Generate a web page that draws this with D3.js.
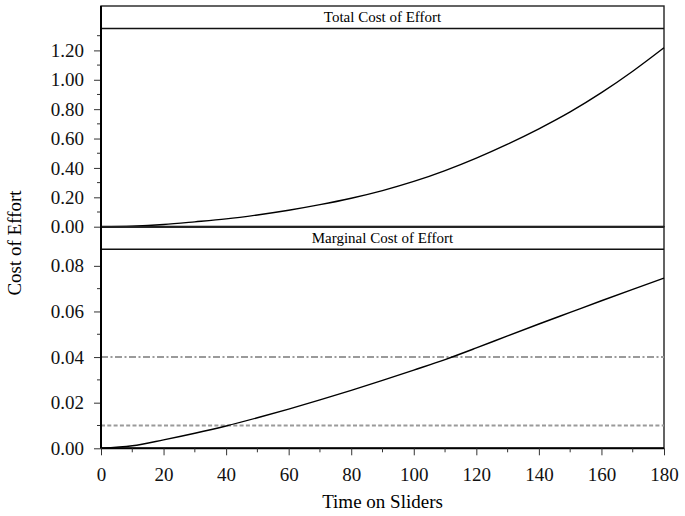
<!DOCTYPE html>
<html>
<head>
<meta charset="utf-8">
<script src="https://cdn.jsdelivr.net/npm/d3@7"></script>
<style>
  html, body { margin: 0; padding: 0; background: #fff; }
  svg { display: block; font-family: "Liberation Serif", "Times New Roman", serif; }
</style>
</head>
<body>
<div id="chart"></div>
<script>
// time on sliders (seconds)
const timeValues = [0, 10, 20, 30, 40, 50, 60, 70, 80, 90, 100, 110, 120, 130, 140, 150, 160, 170, 180];
// total cost of effort
const totalCost = [0, 0.004, 0.015, 0.033, 0.053, 0.080, 0.112, 0.150, 0.194, 0.246, 0.308, 0.382, 0.467, 0.562, 0.666, 0.781, 0.912, 1.058, 1.218];
// marginal cost of effort
const marginalCost = [0, 0.0011, 0.0037, 0.0066, 0.0098, 0.0134, 0.0172, 0.0212, 0.0254, 0.0298, 0.0343, 0.0389, 0.0440, 0.0493, 0.0545, 0.0596, 0.0647, 0.0697, 0.0746];
// reference lines in the marginal panel
const refLines = [
  { value: 0.04, dash: "7,2.5,2,2.5" },
  { value: 0.01, dash: "4,2.3" }
];
const xTicks = [0, 20, 40, 60, 80, 100, 120, 140, 160, 180];
const topTicks = [0, 0.2, 0.4, 0.6, 0.8, 1.0, 1.2];
const bottomTicks = [0, 0.02, 0.04, 0.06, 0.08];

const width = 685, height = 516;
const left = 101, right = 664;
const stripH = 22.5;

const svg = d3.select("#chart").append("svg")
  .attr("width", width)
  .attr("height", height);

const x = d3.scaleLinear().domain([0, 180]).range([left, right]);

const panels = [
  { title: "Total Cost of Effort", top: 6, bottom: 226.7, max: 1.349,
    values: totalCost, ticks: topTicks, minor: d3.range(0.1, 1.35, 0.2), fmt: d3.format(".2f"), refs: [] },
  { title: "Marginal Cost of Effort", top: 226.7, bottom: 448.3, max: 0.0873,
    values: marginalCost, ticks: bottomTicks, minor: [0.01, 0.03, 0.05, 0.07], fmt: d3.format(".2f"), refs: refLines }
];

panels.forEach(p => {
  const plotTop = p.top + stripH;
  const y = d3.scaleLinear().domain([0, p.max]).range([p.bottom, plotTop]);
  const g = svg.append("g");

  // strip box
  g.append("rect")
    .attr("x", left).attr("y", p.top)
    .attr("width", right - left).attr("height", p.bottom - p.top)
    .attr("fill", "none").attr("stroke", "#222").attr("stroke-width", 1.4);
  g.append("line")
    .attr("x1", left).attr("x2", right)
    .attr("y1", plotTop).attr("y2", plotTop)
    .attr("stroke", "#111").attr("stroke-width", 1.4);
  g.append("text")
    .attr("x", (left + right) / 2).attr("y", p.top + 16)
    .attr("text-anchor", "middle")
    .attr("font-size", 15)
    .text(p.title);

  // reference lines
  p.refs.forEach(r => {
    g.append("line")
      .attr("x1", left).attr("x2", right)
      .attr("y1", y(r.value)).attr("y2", y(r.value))
      .attr("stroke", "#9a9a9a").attr("stroke-width", 2)
      .attr("stroke-dasharray", r.dash);
  });

  // curve
  const line = d3.line()
    .x((d, i) => x(timeValues[i]))
    .y(d => y(d))
    .curve(d3.curveMonotoneX);
  g.append("path")
    .datum(p.values)
    .attr("d", line)
    .attr("fill", "none")
    .attr("stroke", "#000")
    .attr("stroke-width", 1.4);

  // y axis
  const yAxis = g.append("g")
    .attr("transform", `translate(${left},0)`)
    .call(d3.axisLeft(y).tickValues(p.ticks).tickFormat(p.fmt).tickSize(7).tickPadding(10).tickSizeOuter(0));
  yAxis.select(".domain").remove();
  yAxis.selectAll("text").attr("font-size", 19).attr("font-family", "Liberation Serif").attr("fill", "#111");
  yAxis.selectAll("line").attr("stroke", "#333");
  p.minor.forEach(v => {
    g.append("line")
      .attr("x1", left - 4).attr("x2", left)
      .attr("y1", y(v)).attr("y2", y(v))
      .attr("stroke", "#333");
  });

  // baseline at zero
  g.append("line")
    .attr("x1", left).attr("x2", right)
    .attr("y1", y(0)).attr("y2", y(0))
    .attr("stroke", "#000").attr("stroke-width", 2);
});

// left axis line
svg.append("line")
  .attr("x1", left).attr("x2", left)
  .attr("y1", 6).attr("y2", 448.3)
  .attr("stroke", "#000").attr("stroke-width", 2);

// x axis
const xAxis = svg.append("g")
  .attr("transform", "translate(0,448.3)")
  .call(d3.axisBottom(x).tickValues(xTicks).tickSize(7).tickPadding(12).tickSizeOuter(0));
xAxis.select(".domain").remove();
xAxis.selectAll("text").attr("font-size", 19).attr("font-family", "Liberation Serif").attr("fill", "#111");
xAxis.selectAll("line").attr("stroke", "#333");
d3.range(10, 180, 20).forEach(v => {
  svg.append("line")
    .attr("x1", x(v)).attr("x2", x(v))
    .attr("y1", 448.3).attr("y2", 452.3)
    .attr("stroke", "#333");
});

// axis titles
svg.append("text")
  .attr("x", (left + right) / 2).attr("y", 508)
  .attr("text-anchor", "middle")
  .attr("font-size", 19)
  .text("Time on Sliders");

svg.append("text")
  .attr("transform", "translate(21,243) rotate(-90)")
  .attr("text-anchor", "middle")
  .attr("font-size", 19)
  .text("Cost of Effort");
</script>
</body>
</html>
